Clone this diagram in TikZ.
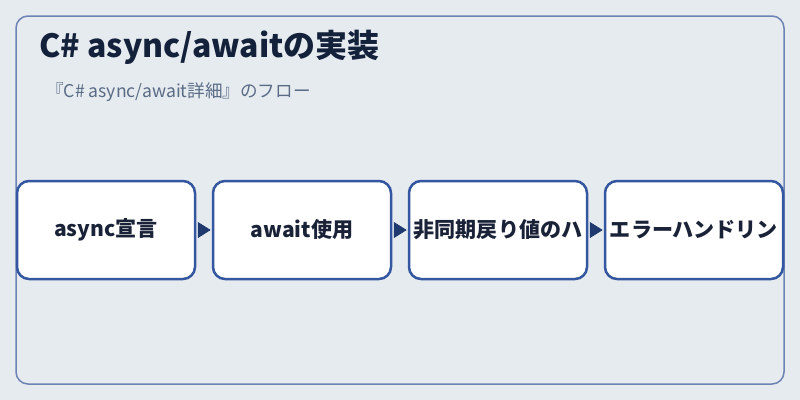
\documentclass[tikz,border=0pt]{standalone}
\usepackage{fontspec}
\setmainfont{Noto Sans CJK JP}
\usetikzlibrary{arrows.meta}
\definecolor{bgc}{HTML}{E6EBF0}
\definecolor{framec}{HTML}{6D83B3}
\definecolor{boxc}{HTML}{3457A0}
\definecolor{arrc}{HTML}{1E3A6E}
\definecolor{titlec}{HTML}{14213A}
\definecolor{subc}{HTML}{5A6B85}
\definecolor{textc}{HTML}{1A2238}
\tikzset{
  stepbox/.style={draw=boxc, line width=1.875pt, fill=white, rounded corners=9pt,
    minimum width=133.5pt, minimum height=73.5pt, inner sep=0pt,
    font=\fontsize{15.8pt}{18pt}\selectfont\bfseries, text=textc},
  flow/.style={draw=arrc, line width=0.75pt, -{Triangle[length=9.75pt,width=12pt]}, arrc,
    shorten <=1.5pt, shorten >=0.75pt}
}
\begin{document}
\begin{tikzpicture}[x=0.75pt,y=-0.75pt]
\fill[bgc] (0,0) rectangle (800,400);
\useasboundingbox (0,0) rectangle (800,400);
\draw[framec, line width=1.125pt, rounded corners=9pt] (16,16) rectangle (784,384);
\node[anchor=base west, text=titlec, font=\fontsize{24pt}{28pt}\selectfont\bfseries, inner sep=0pt] (title) at (39,57) {C\# async/awaitの実装};
\node[anchor=base west, text=subc, font=\fontsize{13.2pt}{15pt}\selectfont, inner sep=0pt] (sub) at (46,97) {『C\# async/await詳細』のフロー};
\node[stepbox] (b1) at (106,230) {async宣言};
\node[stepbox] (b2) at (302,230) {await使用};
\node[stepbox] (b3) at (498,230) {非同期戻り値のハ};
\node[stepbox] (b4) at (694,230) {エラーハンドリン};
\draw[flow] (b1) -- (b2);
\draw[flow] (b2) -- (b3);
\draw[flow] (b3) -- (b4);
\end{tikzpicture}
\end{document}
